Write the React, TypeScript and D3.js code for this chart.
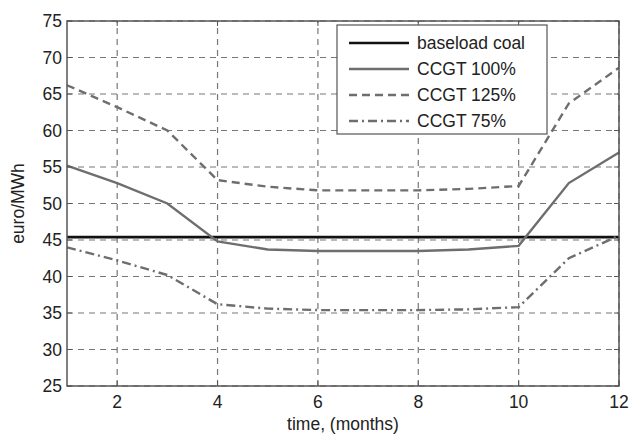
import React from 'react';
import * as d3 from 'd3';

const months = [1, 2, 3, 4, 5, 6, 7, 8, 9, 10, 11, 12];
const baseload = [45.4, 45.4, 45.4, 45.4, 45.4, 45.4, 45.4, 45.4, 45.4, 45.4, 45.4, 45.4];
const ccgt100 = [55.2, 52.8, 50.0, 44.8, 43.7, 43.5, 43.5, 43.5, 43.7, 44.2, 52.8, 57.0];
const ccgt125 = [66.2, 63.2, 60.0, 53.2, 52.3, 51.8, 51.8, 51.8, 52.0, 52.4, 63.7, 68.6];
const ccgt75 = [44.0, 42.2, 40.2, 36.2, 35.6, 35.4, 35.4, 35.4, 35.5, 35.8, 42.5, 45.6];
const xTicks = [2, 4, 6, 8, 10, 12];
const yTicks = [25, 30, 35, 40, 45, 50, 55, 60, 65, 70, 75];

const series = [
  { name: 'baseload coal', values: baseload, color: '#111', width: 2.6, dash: '' },
  { name: 'CCGT 100%', values: ccgt100, color: '#6e6e6e', width: 2.4, dash: '' },
  { name: 'CCGT 125%', values: ccgt125, color: '#6e6e6e', width: 2.4, dash: '8,5' },
  { name: 'CCGT 75%', values: ccgt75, color: '#6e6e6e', width: 2.4, dash: '9,4,2,4' },
];

const W = 630;
const H = 437;
const M = { left: 67, right: 11, top: 21, bottom: 51 };

export default function App() {
  const x = d3.scaleLinear().domain([1, 12]).range([M.left, W - M.right]);
  const y = d3.scaleLinear().domain([25, 75]).range([H - M.bottom, M.top]);
  const line = d3
    .line<number>()
    .x((_, i) => x(months[i]))
    .y((d) => y(d));

  const font = 'Liberation Sans, Arial, sans-serif';
  const fs = 17.5;
  const legX = 337;
  const legY = 25;
  const rowH = 26;

  return (
    <svg width={W} height={H} style={{ position: 'absolute', left: 0, top: 0, background: '#fff' }}>
      {/* grid */}
      <g stroke='#777' strokeWidth={1.2} strokeDasharray='6,5'>
        {xTicks.map((t) => (
          <line key={'gx' + t} x1={x(t)} x2={x(t)} y1={y(25)} y2={y(75)} />
        ))}
        {yTicks.map((t) => (
          <line key={'gy' + t} x1={x(1)} x2={x(12)} y1={y(t)} y2={y(t)} />
        ))}
      </g>

      {/* series */}
      {series.map((s) => (
        <path
          key={s.name}
          d={line(s.values) ?? ''}
          fill='none'
          stroke={s.color}
          strokeWidth={s.width}
          strokeDasharray={s.dash}
        />
      ))}

      {/* frame */}
      <rect x={x(1)} y={y(75)} width={x(12) - x(1)} height={y(25) - y(75)} fill='none' stroke='#555' strokeWidth={1.5} />

      {/* ticks */}
      <g stroke='#555' strokeWidth={1}>
        {xTicks.map((t) => (
          <g key={'tx' + t}>
            <line x1={x(t)} x2={x(t)} y1={y(25)} y2={y(25) - 5} />
            <line x1={x(t)} x2={x(t)} y1={y(75)} y2={y(75) + 5} />
          </g>
        ))}
        {yTicks.map((t) => (
          <g key={'ty' + t}>
            <line x1={x(1)} x2={x(1) + 5} y1={y(t)} y2={y(t)} />
            <line x1={x(12)} x2={x(12) - 5} y1={y(t)} y2={y(t)} />
          </g>
        ))}
      </g>

      {/* tick labels */}
      <g fontFamily={font} fontSize={fs} fill='#222'>
        {xTicks.map((t) => (
          <text key={'lx' + t} x={x(t)} y={y(25) + 22} textAnchor='middle'>
            {t}
          </text>
        ))}
        {yTicks.map((t) => (
          <text key={'ly' + t} x={x(1) - 5} y={y(t) + 6} textAnchor='end'>
            {t}
          </text>
        ))}
      </g>

      <text x={(x(1) + x(12)) / 2} y={H - 7} textAnchor='middle' fontFamily={font} fontSize={fs} fill='#222'>
        time, (months)
      </text>
      <text
        transform={`translate(24,${(y(25) + y(75)) / 2}) rotate(-90)`}
        textAnchor='middle'
        fontFamily={font}
        fontSize={fs}
        fill='#222'
      >
        euro/MWh
      </text>

      {/* legend */}
      <rect x={legX} y={legY} width={210} height={109} fill='#fff' stroke='#555' strokeWidth={1.2} />
      {series.map((s, i) => (
        <g key={'lg' + s.name}>
          <line
            x1={legX + 12}
            x2={legX + 72}
            y1={legY + 18 + i * rowH}
            y2={legY + 18 + i * rowH}
            stroke={s.color}
            strokeWidth={s.width}
            strokeDasharray={s.dash}
          />
          <text x={legX + 80} y={legY + 24 + i * rowH} fontFamily={font} fontSize={fs} fill='#222'>
            {s.name}
          </text>
        </g>
      ))}
    </svg>
  );
}
